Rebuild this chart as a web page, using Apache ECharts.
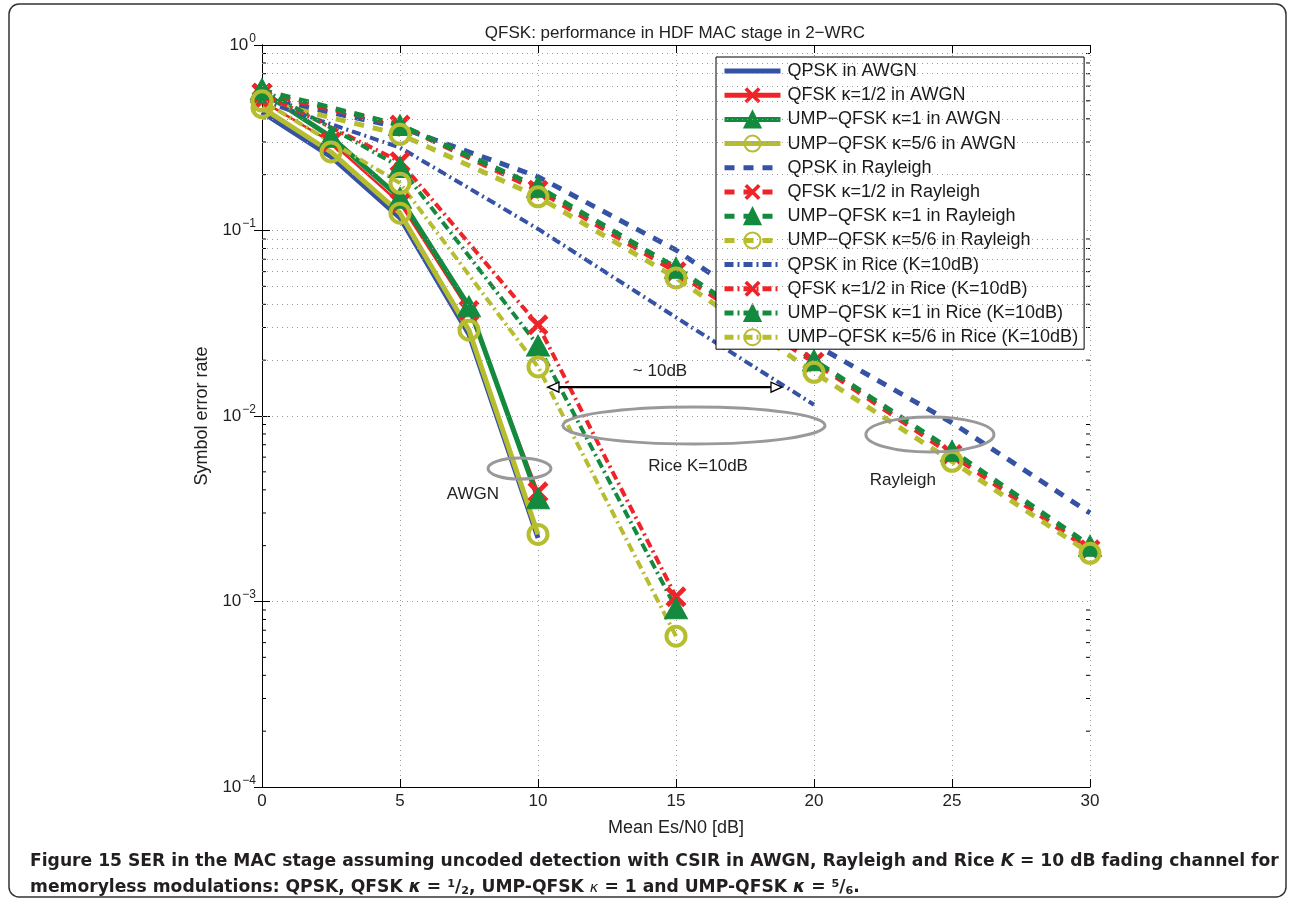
<!DOCTYPE html>
<html><head><meta charset="utf-8">
<script src="https://cdn.jsdelivr.net/npm/echarts@6/dist/echarts.min.js"></script>
<style>html,body{margin:0;padding:0;background:#fff}#c{width:1292px;height:904px}</style>
</head><body><div id="c"></div>
<script>
// ---------- data ----------
const xAwgn = [0, 2.5, 5, 7.5, 10];
const xRayleigh = [0, 5, 10, 15, 20, 25, 30];
const xRice = [0, 5, 10, 15];
const xRiceQpsk = [0, 5, 10, 15, 20];

const qpskAwgn   = [0.435, 0.25, 0.117, 0.0275, 0.0022];
const qfskAwgn   = [0.50, 0.30, 0.140, 0.037, 0.0039];
const ump1Awgn   = [0.56, 0.32, 0.150, 0.039, 0.0036];
const ump56Awgn  = [0.46, 0.265, 0.124, 0.029, 0.0023];

const qpskRay    = [0.52, 0.36, 0.195, 0.0785, 0.0244, 0.0092, 0.0030];
const qfskRay    = [0.55, 0.37, 0.165, 0.060, 0.0195, 0.0062, 0.0019];
const ump1Ray    = [0.57, 0.37, 0.172, 0.063, 0.0200, 0.0065, 0.0020];
const ump56Ray   = [0.50, 0.33, 0.152, 0.0555, 0.0172, 0.0057, 0.00182];

const qpskRice   = [0.50, 0.28, 0.102, 0.034, 0.0115];
const qfskRice   = [0.55, 0.235, 0.031, 0.00106];
const ump1Rice   = [0.58, 0.22, 0.024, 0.00092];
const ump56Rice  = [0.50, 0.18, 0.0184, 0.00065];

const seriesNames = [
  'QPSK in AWGN', 'QFSK κ=1/2 in AWGN', 'UMP−QFSK κ=1 in AWGN', 'UMP−QFSK κ=5/6 in AWGN',
  'QPSK in Rayleigh', 'QFSK κ=1/2 in Rayleigh', 'UMP−QFSK κ=1 in Rayleigh', 'UMP−QFSK κ=5/6 in Rayleigh',
  'QPSK in Rice (K=10dB)', 'QFSK κ=1/2 in Rice (K=10dB)', 'UMP−QFSK κ=1 in Rice (K=10dB)', 'UMP−QFSK κ=5/6 in Rice (K=10dB)'
];
const xTickValues = [0, 5, 10, 15, 20, 25, 30];
const yDecades = [-4, -3, -2, -1, 0];
const minorMultipliers = [2, 3, 4, 5, 6, 7, 8, 9];

const titleText = 'QFSK: performance in HDF MAC stage in 2−WRC';
const xName = 'Mean Es/N0 [dB]';
const yName = 'Symbol error rate';
const captionLine1 = 'Figure 15 SER in the MAC stage assuming uncoded detection with CSIR in AWGN, Rayleigh and Rice {i|K} = 10 dB fading channel for';
const captionLine2 = 'memoryless modulations: QPSK, QFSK {i|κ} = {sup|1}/{sub|2}, UMP-QFSK {k|κ} = 1 and UMP-QFSK {i|κ} = {sup|5}/{sub|6}.';

// annotations in data coordinates
const annotations = {
  arrow: { x1: 10.36, x2: 18.84, y: 0.0143 },
  arrowText: { x: 14.42, y: 0.0174, text: '~ 10dB' },
  ellipses: [
    { x1: 10.9, x2: 20.4, y1: 0.01119, y2: 0.00706 },
    { x1: 21.88, x2: 26.52, y1: 0.00988, y2: 0.0064 },
    { x1: 8.19, x2: 10.47, y1: 0.00594, y2: 0.00457 }
  ],
  labels: [
    { x: 15.8, y: 0.00537, text: 'Rice K=10dB' },
    { x: 23.22, y: 0.00452, text: 'Rayleigh' },
    { x: 7.64, y: 0.0038, text: 'AWGN' }
  ]
};

// ---------- styles ----------
const FONT = 'Liberation Sans, Arial, Helvetica, sans-serif';
const CAPFONT = 'DejaVu Sans, sans-serif';
const BLUE = '#3552a5', RED = '#ee2428', GREEN = '#138a3e', OLIVE = '#b6bd2f';
const X_PATH = 'path://M1.6,0L5,3.4L8.4,0L10,1.6L6.6,5L10,8.4L8.4,10L5,6.6L1.6,10L0,8.4L3.4,5L0,1.6Z';
const DASH = [10, 9];
const DASHDOT = [9, 4, 2, 4];

const pairs = (xs, ys) => xs.map((x, i) => [x, ys[i]]);

function mk(name, xs, ys, color, width, type, marker) {
  const s = {
    name, type: 'line', data: pairs(xs, ys), animation: false,
    lineStyle: { color, width, type },
    showAllSymbol: true
  };
  if (marker === 'x') {
    s.symbol = X_PATH; s.symbolSize = 21;
    s.itemStyle = { color, borderWidth: 0 };
  } else if (marker === 'tri') {
    s.symbol = 'triangle'; s.symbolSize = [23, 21];
    s.itemStyle = { color, borderColor: color, borderWidth: 1 };
  } else if (marker === 'o') {
    s.symbol = 'circle'; s.symbolSize = 19;
    s.itemStyle = { color: 'rgba(255,255,255,0)', borderColor: color, borderWidth: 4 };
  } else {
    s.symbol = 'circle'; s.showSymbol = false;
    s.itemStyle = { color: 'rgba(0,0,0,0)', borderWidth: 0 };
  }
  return s;
}

const series = [
  mk(seriesNames[0], xAwgn, qpskAwgn, BLUE, 5, 'solid', null),
  mk(seriesNames[1], xAwgn, qfskAwgn, RED, 2.5, 'solid', 'x'),
  mk(seriesNames[2], xAwgn, ump1Awgn, GREEN, 5, 'solid', 'tri'),
  mk(seriesNames[3], xAwgn, ump56Awgn, OLIVE, 5, 'solid', 'o'),
  mk(seriesNames[4], xRayleigh, qpskRay, BLUE, 5, DASH, null),
  mk(seriesNames[5], xRayleigh, qfskRay, RED, 5, DASH, 'x'),
  mk(seriesNames[6], xRayleigh, ump1Ray, GREEN, 5, DASH, 'tri'),
  mk(seriesNames[7], xRayleigh, ump56Ray, OLIVE, 5, DASH, 'o'),
  mk(seriesNames[8], xRiceQpsk, qpskRice, BLUE, 4, DASHDOT, null),
  mk(seriesNames[9], xRice, qfskRice, RED, 4, DASHDOT, 'x'),
  mk(seriesNames[10], xRice, ump1Rice, GREEN, 4, DASHDOT, 'tri'),
  mk(seriesNames[11], xRice, ump56Rice, OLIVE, 4, DASHDOT, 'o')
];

// minor grid lines via markLine on an empty helper series
const minorValues = [];
yDecades.slice(0, -1).forEach(d => minorMultipliers.forEach(m => minorValues.push(m * Math.pow(10, d))));
series.unshift({
  type: 'line', data: [], silent: true, animation: false,
  markLine: {
    silent: true, symbol: 'none', animation: false,
    label: { show: false },
    lineStyle: { color: '#9a9a9a', width: 1, type: [1, 4] },
    data: minorValues.map(v => ({ yAxis: v }))
  }
});

const gridLine = { show: true, lineStyle: { color: '#9a9a9a', width: 1, type: [1, 4] } };
const supMap = v => { const e = Math.round(Math.log10(v)); return e < 0 ? '−' + (-e) : String(e); };

const yAxisBase = {
  type: 'log', logBase: 10, min: 1e-4, max: 1,
  axisLine: { show: true, lineStyle: { color: '#000', width: 1 } },
  axisTick: { show: true, inside: true, length: 8, lineStyle: { color: '#000' } },
  minorTick: { show: false }
};

const option = {
  backgroundColor: '#fff',
  animation: false,
  title: {
    text: titleText, left: 670, top: 20, textAlign: 'center',
    textStyle: { fontFamily: FONT, fontSize: 17, fontWeight: 'normal', color: '#222' }
  },
  legend: {
    data: seriesNames, orient: 'vertical', left: 716, top: 57,
    selectedMode: false,
    backgroundColor: '#fff', borderColor: '#000', borderWidth: 1, borderRadius: 0,
    padding: [5, 6, 3, 6],
    itemWidth: 56, itemHeight: 20, itemGap: 6.2,
    lineStyle: { width: 5 },
    textStyle: { fontFamily: FONT, fontSize: 18, color: '#1a1a1a', padding: [0, 0, 0, 2] }
  },
  grid: { left: 262, right: 202, top: 45, bottom: 117, containLabel: false },
  xAxis: [{
    type: 'value', min: 0, max: 30, interval: 5,
    name: xName, nameLocation: 'middle', nameGap: 32,
    nameTextStyle: { fontFamily: FONT, fontSize: 18, color: '#222' },
    axisLine: { show: true, onZero: false, lineStyle: { color: '#000' } },
    axisTick: { show: true, inside: true, length: 8, lineStyle: { color: '#000' } },
    axisLabel: { fontFamily: FONT, fontSize: 17, color: '#222', margin: 6 },
    splitLine: gridLine
  }, {
    type: 'value', min: 0, max: 30, interval: 5, position: 'top',
    axisLine: { show: true, onZero: false, lineStyle: { color: '#000' } },
    axisTick: { show: true, inside: true, length: 8, lineStyle: { color: '#000' } },
    axisLabel: { show: false }, splitLine: { show: false }
  }],
  yAxis: [Object.assign({}, yAxisBase, {
    position: 'left',
    name: yName, nameLocation: 'middle', nameGap: 48,
    nameTextStyle: { fontFamily: FONT, fontSize: 18, color: '#222' },
    axisLabel: {
      margin: 6,
      formatter: v => '{b|10}{s|' + supMap(v) + '}',
      rich: {
        b: { fontFamily: FONT, fontSize: 17, color: '#222' },
        s: { fontFamily: FONT, fontSize: 12, color: '#222', padding: [0, 0, 13, 1] }
      }
    },
    splitLine: gridLine
  }), Object.assign({}, yAxisBase, {
    position: 'right', axisLabel: { show: false }, splitLine: { show: false }
  })],
  series
};

const chart = echarts.init(document.getElementById('c'), null, { renderer: 'canvas' });
chart.setOption(option);

// ---------- overlay graphics (positions via the chart's own scales) ----------
const P = (x, y) => chart.convertToPixel({ gridIndex: 0 }, [x, y]);
const g = [];
g.push({ type: 'rect', shape: { x: 9, y: 4, width: 1277, height: 893, r: 10 },
  style: { fill: 'none', stroke: '#333', lineWidth: 1.5 }, z: 0, silent: true });
const xl = P(0, 1)[0], xr = P(30, 1)[0];
minorValues.forEach(v => {
  const y = P(0, v)[1];
  g.push({ type: 'line', shape: { x1: xl, y1: y, x2: xl + 4, y2: y }, style: { stroke: '#000', lineWidth: 1 }, silent: true });
  g.push({ type: 'line', shape: { x1: xr, y1: y, x2: xr - 4, y2: y }, style: { stroke: '#000', lineWidth: 1 }, silent: true });
});
annotations.ellipses.forEach(e => {
  const a = P(e.x1, e.y1), b = P(e.x2, e.y2);
  g.push({ type: 'ellipse', shape: { cx: (a[0] + b[0]) / 2, cy: (a[1] + b[1]) / 2, rx: Math.abs(b[0] - a[0]) / 2, ry: Math.abs(b[1] - a[1]) / 2 },
    style: { fill: 'none', stroke: '#999', lineWidth: 3 }, z: 100, silent: true });
});
{
  const a = P(annotations.arrow.x1, annotations.arrow.y), b = P(annotations.arrow.x2, annotations.arrow.y);
  const y = a[1], hl = 11, hw = 5;
  g.push({ type: 'line', shape: { x1: a[0] + hl, y1: y, x2: b[0] - hl, y2: y }, style: { stroke: '#000', lineWidth: 2.2 }, z: 100, silent: true });
  g.push({ type: 'polygon', shape: { points: [[a[0], y], [a[0] + hl, y - hw], [a[0] + hl, y + hw]] }, style: { fill: '#fff', stroke: '#000', lineWidth: 1.3 }, z: 101, silent: true });
  g.push({ type: 'polygon', shape: { points: [[b[0], y], [b[0] - hl, y - hw], [b[0] - hl, y + hw]] }, style: { fill: '#fff', stroke: '#000', lineWidth: 1.3 }, z: 101, silent: true });
  const t = P(annotations.arrowText.x, annotations.arrowText.y);
  g.push({ type: 'text', x: t[0], y: t[1], style: { text: annotations.arrowText.text, font: '17px ' + FONT, fill: '#222', align: 'center', verticalAlign: 'middle' }, z: 101, silent: true });
}
annotations.labels.forEach(l => {
  const t = P(l.x, l.y);
  g.push({ type: 'text', x: t[0], y: t[1], style: { text: l.text, font: '17px ' + FONT, fill: '#222', align: 'center', verticalAlign: 'middle' }, z: 101, silent: true });
});

// caption: size the font so the justified first line spans the reference width
const capLeft = 30, capRight = 1280;
const mctx = document.createElement('canvas').getContext('2d');
mctx.font = 'bold 100px ' + CAPFONT;
const plain1 = captionLine1.replace(/\{[a-z]+\|([^}]*)\}/g, '$1');
const capSize = Math.min(19, 100 * (capRight - capLeft) / mctx.measureText(plain1).width);
const capRich = {
  i: { fontStyle: 'italic', fontWeight: 'bold', fontSize: capSize, fontFamily: CAPFONT, fill: '#231f20' },
  k: { fontStyle: 'italic', fontWeight: 'normal', fontSize: capSize * 0.85, fontFamily: CAPFONT, fill: '#231f20' },
  sup: { fontWeight: 'bold', fontSize: capSize * 0.65, fontFamily: CAPFONT, fill: '#231f20', padding: [0, 0, 8, 0] },
  sub: { fontWeight: 'bold', fontSize: capSize * 0.65, fontFamily: CAPFONT, fill: '#231f20', padding: [6, 0, 0, 0] }
};
g.push({ type: 'text', x: capLeft, y: 862, style: {
  text: captionLine1, font: 'bold ' + capSize + 'px ' + CAPFONT, fill: '#231f20', align: 'left', verticalAlign: 'middle', rich: capRich }, silent: true });
g.push({ type: 'text', x: capLeft, y: 888, style: {
  text: captionLine2, font: 'bold ' + capSize + 'px ' + CAPFONT, fill: '#231f20', align: 'left', verticalAlign: 'middle', rich: capRich }, silent: true });

chart.setOption({ graphic: g });
</script>
</body></html>
